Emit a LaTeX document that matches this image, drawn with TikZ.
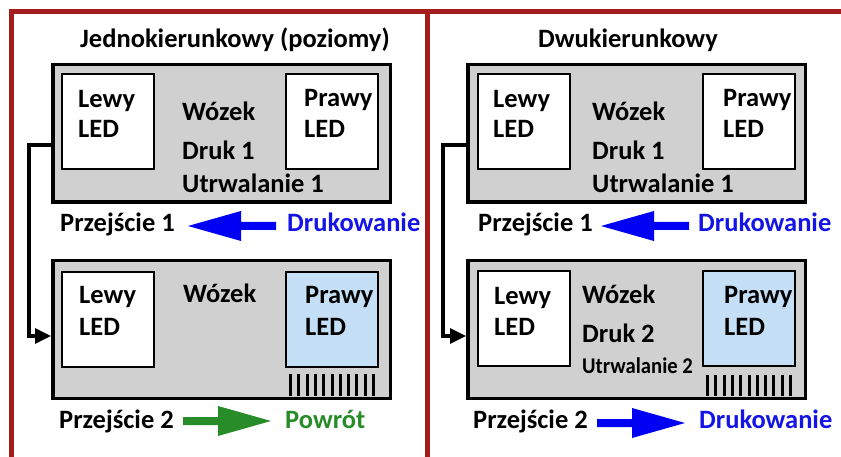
\documentclass[tikz,border=0pt]{standalone}
\usepackage{fontspec}
\setmainfont{Carlito}
\usetikzlibrary{arrows.meta,calc}
\definecolor{framered}{RGB}{165,28,28}
\definecolor{carr}{RGB}{208,208,208}
\definecolor{ledblue}{RGB}{197,223,247}
\definecolor{arrblue}{RGB}{0,0,245}
\definecolor{txtblue}{RGB}{20,20,230}
\definecolor{arrgreen}{RGB}{40,140,40}
\begin{document}
\begin{tikzpicture}[x=1pt,y=-1pt,
  txt/.style={font=\fontsize{26.5}{30}\selectfont\bfseries, anchor=base west, inner sep=0pt},
  smalltxt/.style={font=\fontsize{22.5}{26}\selectfont\bfseries, anchor=base west, inner sep=0pt},
  carriage/.style={draw, line width=3.5pt, fill=carr, anchor=north west, inner sep=0pt,
    minimum width=337.5pt, minimum height=137.5pt},
  led/.style={draw, line width=2pt, fill=white, anchor=north west, inner sep=0pt,
    minimum width=92pt, minimum height=95pt},
  ledb/.style={led, fill=ledblue},
  conn/.style={line width=3.2pt, -{Triangle[length=16pt,width=15pt]}},
  redline/.style={draw=framered, line width=5pt},
  fatarrow/.pic={\fill (0,-4) -- (35,-4) -- (35,-15) -- (88,0) -- (35,15) -- (35,4) -- (0,4) -- cycle;}
]
\useasboundingbox (0,0) rectangle (841,457);
% frame
\draw[redline] (11.5,460) -- (11.5,11.5) -- (845,11.5);
\draw[draw=framered, line width=4.5pt] (427.5,11.5) -- (427.5,460);

% ---------- left panel ----------
\node[txt] (tL) at (80,48) {Jednokierunkowy (poziomy)};
\node[carriage] (tb1) at (51,63) {};
\node[led] (tl1) at (61,73) {};
\node[led] (tr1) at (285,73) {};
\node[txt] (tl1a) at (78,108) {Lewy};
\node[txt] (tl1b) at (78,138) {LED};
\node[txt] (tr1a) at (304,107) {Prawy};
\node[txt] (tr1b) at (304,138) {LED};
\node[txt] (tw1) at (182,121) {Wózek};
\node[txt] (td1) at (182,160) {Druk 1};
\node[txt] (tu1) at (182,193) {Utrwalanie 1};
\node[txt] (p11) at (60,232) {Przejście 1};
\pic[arrblue, xscale=-1] at (276,226) {fatarrow};
\node[txt, text=txtblue] (dr11) at (287,232) {Drukowanie};

\node[carriage] (bb1) at (51,259) {};
\node[led] (bl1) at (61,271) {};
\node[ledb] (br1) at (285,271) {};
\node[txt] (bl1a) at (79,303) {Lewy};
\node[txt] (bl1b) at (79,335) {LED};
\node[txt] (br1a) at (305,303) {Prawy};
\node[txt] (br1b) at (305,335) {LED};
\node[txt] (bw1) at (183,302) {Wózek};
\foreach \i in {0,...,10} \fill (289+\i*8.3,374) rectangle ++(3,22);
\node[txt] (p21) at (59,428) {Przejście 2};
\pic[arrgreen] at (183,421) {fatarrow};
\node[txt, text=arrgreen] (pw1) at (285,428) {Powrót};

\draw[conn] ([yshift=-11.5pt]tb1.west) -- ++(-22,0) |- ([yshift=-6.5pt]bb1.west);

% ---------- right panel ----------
\node[txt] (tR) at (538,48) {Dwukierunkowy};
\node[carriage] (tb2) at (466,63) {};
\node[led] (tl2) at (477,73) {};
\node[led] (tr2) at (702,73) {};
\node[txt] (tl2a) at (493,108) {Lewy};
\node[txt] (tl2b) at (493,138) {LED};
\node[txt] (tr2a) at (723,107) {Prawy};
\node[txt] (tr2b) at (723,138) {LED};
\node[txt] (tw2) at (592,121) {Wózek};
\node[txt] (td2) at (592,160) {Druk 1};
\node[txt] (tu2) at (592,193) {Utrwalanie 1};
\node[txt] (p12) at (478,232) {Przejście 1};
\pic[arrblue, xscale=-1] at (689,226) {fatarrow};
\node[txt, text=txtblue] (dr12) at (698,232) {Drukowanie};

\node[carriage] (bb2) at (466,259) {};
\node[led] (bl2) at (477,270) {};
\node[ledb] (br2) at (702,270) {};
\node[txt] (bl2a) at (494,304) {Lewy};
\node[txt] (bl2b) at (494,335) {LED};
\node[txt] (br2a) at (724,303) {Prawy};
\node[txt] (br2b) at (724,335) {LED};
\node[txt] (bw2) at (582,303) {Wózek};
\node[txt] (bd2) at (582,342) {Druk 2};
\node[smalltxt] (bu2) at (582,373) {\scalebox{0.92}[1]{Utrwalanie 2}};
\foreach \i in {0,...,10} \fill (706+\i*8.3,375) rectangle ++(3,21);
\node[txt] (p22) at (473,428) {Przejście 2};
\pic[arrblue] at (597,423) {fatarrow};
\node[txt, text=txtblue] (dr22) at (699,428) {Drukowanie};

\draw[conn] ([yshift=-11.5pt]tb2.west) -- ++(-23,0) |- ([yshift=-6.5pt]bb2.west);
\end{tikzpicture}
\end{document}
